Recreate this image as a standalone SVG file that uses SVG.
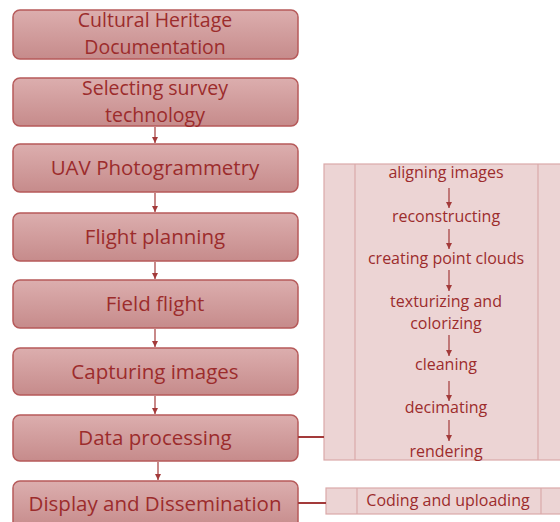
<svg xmlns="http://www.w3.org/2000/svg" width="560" height="522" viewBox="0 0 560 522">
<defs>
<linearGradient id="g" x1="0" y1="0" x2="0" y2="1">
<stop offset="0" stop-color="#dcaeae"/>
<stop offset="1" stop-color="#c68b8b"/>
</linearGradient>
<marker id="ah" viewBox="0 0 10 10" refX="10" refY="5" markerWidth="6" markerHeight="6" markerUnits="userSpaceOnUse" orient="auto">
<path d="M0,0 L10,5 L0,10 z" fill="#a33a3a"/>
</marker>
<style>
.box{fill:url(#g);stroke:#b65a5a;stroke-width:1.5}
.t{font-family:"Open Sans","Liberation Sans",sans-serif;font-size:20.5px;fill:#9c2c2c;text-anchor:middle}
.t2{font-size:19.5px}
.s{font-family:"Open Sans","Liberation Sans",sans-serif;font-size:16px;fill:#9c2c2c;text-anchor:middle}
.arr{stroke:#a33a3a;stroke-width:1.2;fill:none;marker-end:url(#ah)}
.conn{stroke:#a33a3a;stroke-width:2;fill:none}
.panel{fill:#ecd4d4;stroke:#dba9a9;stroke-width:1.2}
.div{stroke:#dba9a9;stroke-width:1.2}
</style>
</defs>
<g id="n1"><rect class="box" x="13" y="10" width="285" height="49" rx="7"/><text class="t t2" x="155" y="27">Cultural Heritage</text><text class="t t2" x="155" y="54">Documentation</text></g>
<g id="n2"><rect class="box" x="13" y="78" width="285" height="48" rx="7"/><text class="t t2" x="155" y="95">Selecting survey</text><text class="t t2" x="155" y="122">technology</text></g>
<g id="n3"><rect class="box" x="13" y="144" width="285" height="48" rx="7"/><text class="t" x="155" y="175">UAV Photogrammetry</text></g>
<g id="n4"><rect class="box" x="13" y="213" width="285" height="48" rx="7"/><text class="t" x="155" y="244">Flight planning</text></g>
<g id="n5"><rect class="box" x="13" y="280" width="285" height="48" rx="7"/><text class="t" x="155" y="311">Field flight</text></g>
<g id="n6"><rect class="box" x="13" y="348" width="285" height="47" rx="7"/><text class="t" x="155" y="379">Capturing images</text></g>
<g id="n7"><rect class="box" x="13" y="415" width="285" height="46" rx="7"/><text class="t" x="155" y="445">Data processing</text></g>
<g id="n8"><rect class="box" x="13" y="481" width="285" height="48" rx="7"/><text class="t" x="155" y="511">Display and Dissemination</text></g>
<g id="p1">
<rect class="panel" x="324" y="164" width="250" height="296"/>
<line class="div" x1="355" y1="164" x2="355" y2="460"/>
<line class="div" x1="538" y1="164" x2="538" y2="460"/>
<text class="s" x="446" y="178">aligning images</text>
<text class="s" x="446" y="222">reconstructing</text>
<text class="s" x="446" y="264">creating point clouds</text>
<text class="s" x="446" y="307">texturizing and</text>
<text class="s" x="446" y="329">colorizing</text>
<text class="s" x="446" y="370">cleaning</text>
<text class="s" x="446" y="413">decimating</text>
<text class="s" x="446" y="457">rendering</text>
</g>
<g id="p2">
<rect class="panel" x="326" y="488" width="250" height="26"/>
<line class="div" x1="357" y1="488" x2="357" y2="514"/>
<line class="div" x1="541" y1="488" x2="541" y2="514"/>
<text class="s" x="448" y="506">Coding and uploading</text>
</g>
<g id="connectors">
<line class="arr" x1="155" y1="127" x2="155" y2="143"/>
<line class="arr" x1="155" y1="193" x2="155" y2="212"/>
<line class="arr" x1="155" y1="262" x2="155" y2="279"/>
<line class="arr" x1="155" y1="329" x2="155" y2="347"/>
<line class="arr" x1="155" y1="396" x2="155" y2="414"/>
<line class="arr" x1="158" y1="462" x2="158" y2="480"/>
<line class="arr" x1="449" y1="188" x2="449" y2="208"/>
<line class="arr" x1="449" y1="229" x2="449" y2="249"/>
<line class="arr" x1="449" y1="270" x2="449" y2="291"/>
<line class="arr" x1="449" y1="335" x2="449" y2="356"/>
<line class="arr" x1="449" y1="381" x2="449" y2="401"/>
<line class="arr" x1="449" y1="420" x2="449" y2="441"/>
<line class="conn" x1="298" y1="437" x2="324" y2="437"/>
<line class="conn" x1="298" y1="503" x2="326" y2="503"/>
</g>
</svg>
